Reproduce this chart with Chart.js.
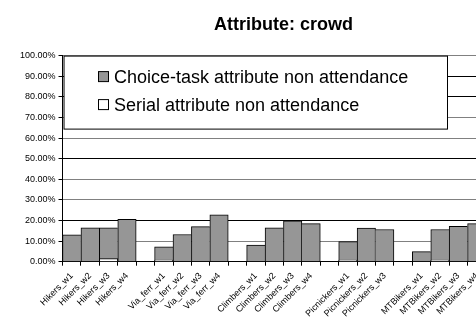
<!DOCTYPE html>
<html>
<head>
<meta charset="utf-8">
<script src="https://cdn.jsdelivr.net/npm/chart.js@4/dist/chart.umd.min.js"></script>
<style>
html, body { margin: 0; padding: 0; background: #fff; overflow: hidden; }
#wrap { position: relative; width: 566px; height: 322px; }
</style>
</head>
<body>
<div id="wrap"><canvas id="chart"></canvas></div>
<script>
// categories (empty strings are the gaps between groups)
var labels = ['Hikers_w1', 'Hikers_w2', 'Hikers_w3', 'Hikers_w4', '',
    'Via_ferr_w1', 'Via_ferr_w2', 'Via_ferr_w3', 'Via_ferr_w4', '',
    'Climbers_w1', 'Climbers_w2', 'Climbers_w3', 'Climbers_w4', '',
    'Picnickers_w1', 'Picnickers_w2', 'Picnickers_w3', '',
    'MTBikers_w1', 'MTBikers_w2', 'MTBikers_w3', 'MTBikers_w4'];
var choiceTask = [0.130, 0.164, 0.164, 0.206, null,
    0.072, 0.132, 0.170, 0.227, null,
    0.080, 0.164, 0.198, 0.185, null,
    0.097, 0.163, 0.156, null,
    0.049, 0.156, 0.172, 0.185];
var serial = [0, 0, 0.015, 0, null,
    0.008, 0, 0, 0, null,
    0, 0, 0, 0, null,
    0.008, 0, 0, null,
    0, 0.008, 0, 0];
var seriesNames = ['Choice-task attribute non attendance', 'Serial attribute non attendance'];

Chart.defaults.font.family = '"Liberation Sans", Arial, sans-serif';
Chart.defaults.color = '#000';

// side borders only where a neighbour does not already draw one
function sideBorders(c) {
    var d = c.dataset.data, i = c.dataIndex, v = d[i];
    var prev = d[i - 1], next = d[i + 1];
    return {
        top: 1,
        left: (prev == null || prev <= v) ? 1 : 0,
        right: (next == null || next < v) ? 1 : 0,
        bottom: 0
    };
}

// legend drawn as a white framed box sitting over the plot
var boxLegend = {
    id: 'boxLegend',
    afterLayout: function(chart) {
        // the original title is centred over a wider chart than the visible part
        var t = chart.titleBlock;
        if (t) { t.left += 32; t.right += 32; }
    },
    afterDatasetsDraw: function(chart) {
        var ctx = chart.ctx, a = chart.chartArea;
        var x0 = a.left + 1.5, y0 = a.top + 0.5, x1 = 447.5, y1 = a.top + 73.5;
        ctx.save();
        ctx.fillStyle = '#fff';
        ctx.fillRect(x0, y0, x1 - x0, y1 - y0);
        ctx.strokeStyle = '#000';
        ctx.lineWidth = 1;
        ctx.strokeRect(x0, y0, x1 - x0, y1 - y0);
        ctx.font = '18px "Liberation Sans", Arial, sans-serif';
        ctx.textBaseline = 'middle';
        var rows = [a.top + 21, a.top + 49];
        chart.data.datasets.forEach(function(ds, i) {
            ctx.fillStyle = ds.backgroundColor;
            ctx.fillRect(98.5, rows[i] - 5, 10, 10);
            ctx.strokeStyle = '#000';
            ctx.strokeRect(98.5, rows[i] - 5, 10, 10);
            ctx.fillStyle = '#000';
            ctx.fillText(ds.label, 114, rows[i] + 1);
        });
        ctx.restore();
    }
};

var gridShade = { 0: '#000', 2: '#000', 5: '#000', 8: '#000', 9: '#000' };

var ctx = document.getElementById('chart').getContext('2d');
var myChart = new Chart(ctx, {
    type: 'bar',
    data: {
        labels: labels,
        datasets: [
            {
                label: seriesNames[0],
                data: choiceTask,
                backgroundColor: '#969696',
                borderColor: '#000',
                borderWidth: sideBorders,
                grouped: false,
                order: 1
            },
            {
                label: seriesNames[1],
                data: serial,
                backgroundColor: '#ffffff',
                borderColor: '#000',
                borderWidth: 1,
                grouped: false,
                order: 0
            }
        ]
    },
    options: {
        responsive: true,
        maintainAspectRatio: false,
        animation: false,
        barPercentage: 1,
        categoryPercentage: 1,
        layout: { padding: { left: 17, right: 80, top: 0, bottom: -2 } },
        plugins: {
            legend: { display: false },
            tooltip: { enabled: false },
            title: {
                display: true,
                text: 'Attribute: crowd',
                font: { size: 18, weight: 'bold' },
                color: '#000',
                padding: { top: 14, bottom: 20 }
            }
        },
        scales: {
            x: {
                grid: { display: true, drawOnChartArea: false, drawTicks: true, tickLength: 4, tickColor: '#000', offset: true },
                border: { color: '#000' },
                ticks: { autoSkip: false, minRotation: 45, maxRotation: 45, font: { size: 9 }, padding: 5 }
            },
            y: {
                min: 0,
                max: 1,
                grid: {
                    color: function(c) {
                        var k = Math.round(c.tick.value * 10);
                        return gridShade[k] || '#808080';
                    },
                    tickLength: 4,
                    tickColor: '#000'
                },
                border: { color: '#000' },
                ticks: {
                    stepSize: 0.1,
                    font: { size: 9 },
                    padding: 3,
                    callback: function(v) { return (v * 100).toFixed(2) + '%'; }
                }
            }
        }
    },
    plugins: [boxLegend]
});
</script>
</body>
</html>
